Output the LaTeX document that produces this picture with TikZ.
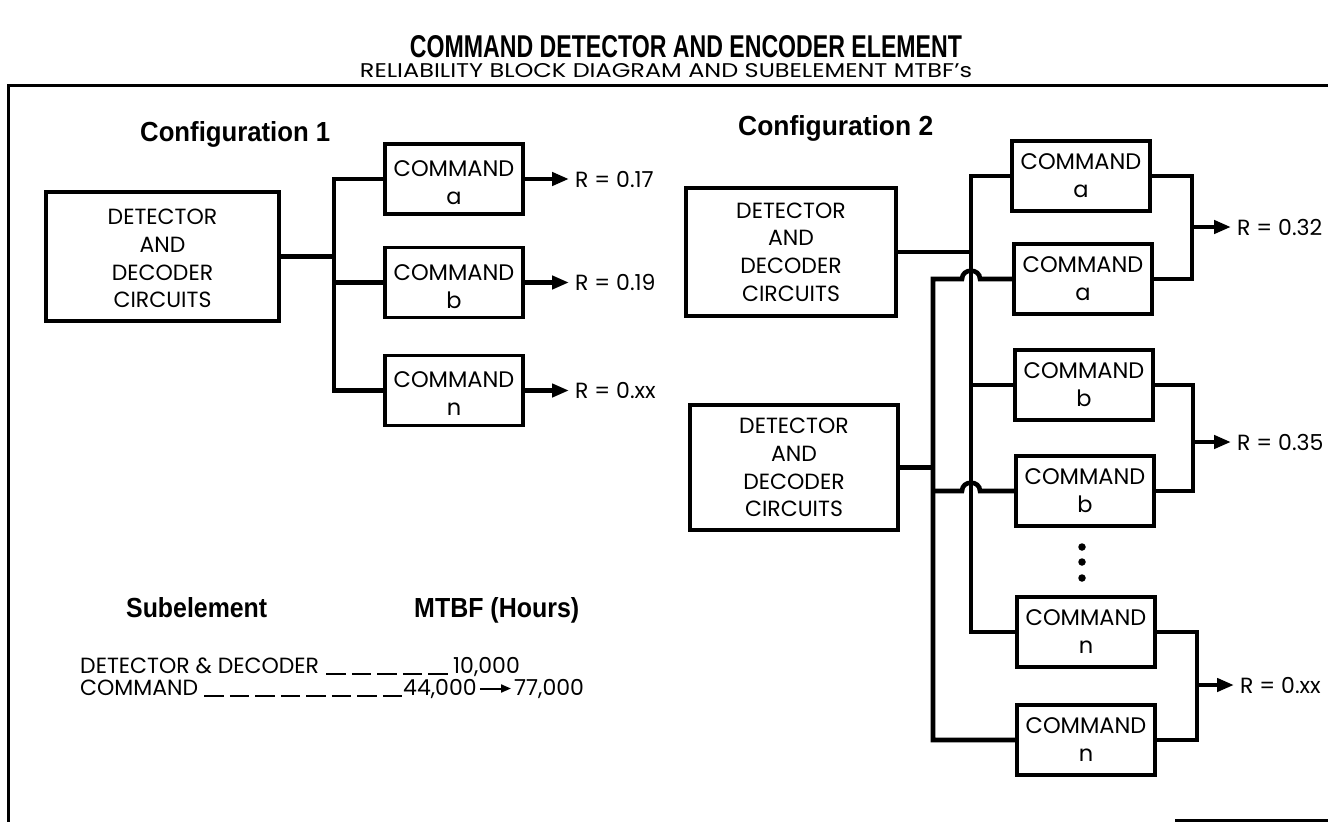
\documentclass[tikz,border=0pt]{standalone}
\usepackage{fontspec}
\usepackage{graphicx}
\setmainfont{Poppins}
\newfontfamily\condfont{Liberation Sans}
\usetikzlibrary{arrows.meta}
\newcommand\lowstrut[1]{\rule{0pt}{#1}}
\begin{document}
\begin{tikzpicture}[x=1pt,y=-1pt,
  frame/.style={line width=3pt},
  cmd/.style={draw, line width=3.2pt, minimum width=138pt, minimum height=70pt, inner sep=0pt, align=center, font=\fontsize{22.5}{28}\selectfont},
  det/.style={draw, line width=3.2pt, inner sep=0pt, align=center, font=\fontsize{22}{27.7}\selectfont},
  wire/.style={line width=4.6pt},
  outarrow/.style={line width=4.6pt, -{Triangle[length=17pt,width=13pt]}},
  rlbl/.style={anchor=west, inner sep=0pt, font=\fontsize{22}{26}\selectfont},
  tbl/.style={inner sep=0pt, font=\fontsize{22}{26}\selectfont},
  leader/.style={line width=2.2pt, dash pattern=on 19.5pt off 6pt},
  dotmark/.style={circle, fill, inner sep=0pt, minimum size=7.5pt},
  head/.style={inner sep=0pt},
]
\useasboundingbox (0,0) rectangle (1328,822);

% titles
\node[head, anchor=base] (title) at (686,57) {\resizebox{552pt}{22pt}{\condfont\bfseries COMMAND DETECTOR AND ENCODER ELEMENT}};
\node[head, anchor=base] (subtitle) at (666,77) {\resizebox{612pt}{14pt}{RELIABILITY BLOCK DIAGRAM AND SUBELEMENT MTBF's}};

% frame
\draw[frame] (1328,85) -- (8,85) -- (8,822);
\draw[frame] (1175,820) -- (1328,820);

% ---------- Configuration 1
\node[head, anchor=base west] (cfg1) at (140,141) {\resizebox{190pt}{20pt}{\condfont\bfseries Configuration 1}};
\node[det, minimum width=233pt, minimum height=129pt] (D1) at (162.5,256.5) {\lowstrut{20pt}DETECTOR\\AND\\DECODER\\CIRCUITS};
\node[cmd] (Ca) at (454,179) {\lowstrut{24pt}COMMAND\\a};
\node[cmd] (Cb) at (454,282.5) {\lowstrut{24pt}COMMAND\\b};
\node[cmd] (Cn) at (454,390.5) {\lowstrut{22pt}COMMAND\\n};
\coordinate (BUS1) at (334,0);
\draw[wire] (Ca.west) -- (Ca.west -| BUS1) -- (Cn.west -| BUS1) -- (Cn.west);
\draw[wire] (Cb.west) -- (Cb.west -| BUS1);
\draw[wire] (D1.east) -- (D1.east -| BUS1);
\node[rlbl] (Ra) at (575,179) {R = 0.17};
\node[rlbl] (Rb) at (575,282.5) {R = 0.19};
\node[rlbl] (Rn) at (575,390.5) {R = 0.xx};
\draw[outarrow] (Ca.east) -- ([xshift=-6pt]Ra.west);
\draw[outarrow] (Cb.east) -- ([xshift=-6pt]Rb.west);
\draw[outarrow] (Cn.east) -- ([xshift=-6pt]Rn.west);

% ---------- Configuration 2
\node[head, anchor=base west] (cfg2) at (738,135) {\resizebox{195pt}{20pt}{\condfont\bfseries Configuration 2}};
\node[det, minimum width=210pt, minimum height=128pt] (D2a) at (791,252) {DETECTOR\\AND\\DECODER\\CIRCUITS};
\node[det, minimum width=208pt, minimum height=125pt] (D2b) at (794,467.5) {DETECTOR\\AND\\DECODER\\CIRCUITS};
\node[cmd] (A1) at (1081,176) {COMMAND\\a};
\node[cmd] (A2) at (1083,279) {COMMAND\\a};
\node[cmd] (B1) at (1084,385) {COMMAND\\b};
\node[cmd] (B2) at (1085,491) {COMMAND\\b};
\node[cmd] (N1) at (1086,632) {COMMAND\\n};
\node[cmd] (N2) at (1086,740) {COMMAND\\n};
\coordinate (BA) at (971,0);
\coordinate (BB) at (933,0);
\coordinate (RA) at (1192,0);
\coordinate (RB) at (1193,0);
\coordinate (RN) at (1197,0);

% bus A (first detector)
\draw[wire] (A1.west) -- (A1.west -| BA) -- (N1.west -| BA) -- (N1.west);
\draw[wire] (B1.west) -- (B1.west -| BA);
\draw[wire] (D2a.east) -- (D2a.east -| BA);
% bus B (second detector), jumping over bus A
\draw[wire] (A2.west) -- (980,279) .. controls (980,268) and (962,268) .. (962,279) -- (A2.west -| BB) -- (N2.west -| BB) -- (N2.west);
\draw[wire] (B2.west) -- (980,491) .. controls (980,480) and (962,480) .. (962,491) -- (B2.west -| BB);
\draw[wire] (D2b.east) -- (D2b.east -| BB);

% outputs
\draw[wire] (A1.east) -- (A1.east -| RA) -- (A2.east -| RA) -- (A2.east);
\draw[wire] (B1.east) -- (B1.east -| RB) -- (B2.east -| RB) -- (B2.east);
\draw[wire] (N1.east) -- (N1.east -| RN) -- (N2.east -| RN) -- (N2.east);
\coordinate (RAm) at (1192,227);
\coordinate (RBm) at (1193,442);
\coordinate (RNm) at (1197,685);
\node[rlbl] (R2a) at (1237,227) {R = 0.32};
\node[rlbl] (R2b) at (1237,442) {R = 0.35};
\node[rlbl] (R2n) at (1240,685) {R = 0.xx};
\draw[outarrow] (RAm) -- ([xshift=-6pt]R2a.west);
\draw[outarrow] (RBm) -- ([xshift=-6pt]R2b.west);
\draw[outarrow] (RNm) -- ([xshift=-6pt]R2n.west);

% dots
\node[dotmark] (dt1) at (1082,547) {};
\node[dotmark] (dt2) at (1082,562) {};
\node[dotmark] (dt3) at (1082,578) {};

% ---------- MTBF table
\node[head, anchor=base west] (sub) at (126,617) {\resizebox{141pt}{20pt}{\condfont\bfseries Subelement}};
\node[head, anchor=base west] (mtbf) at (414,617) {\resizebox{165pt}{20pt}{\condfont\bfseries MTBF (Hours)}};
\node[tbl, anchor=base west] (t1) at (80,673) {DETECTOR \& DECODER};
\node[tbl, anchor=base west] (v1) at (453,673) {10,000};
\draw[leader] ([xshift=7pt,yshift=-1pt]t1.base east) -- ([xshift=-5pt,yshift=-1pt]v1.base west);
\node[tbl, anchor=base west] (t2) at (80,695) {COMMAND};
\node[tbl, anchor=base west] (v2) at (403,695) {44,000};
\node[tbl, anchor=base west] (v3) at (514,695) {77,000};
\draw[leader] ([xshift=6pt,yshift=-1pt]t2.base east) -- ([xshift=-1pt,yshift=-1pt]v2.base west);
\draw[line width=2pt, -{Triangle[length=10pt,width=8pt]}] ([xshift=3pt]v2.east) -- ([xshift=-3pt]v3.west);
\end{tikzpicture}
\end{document}
